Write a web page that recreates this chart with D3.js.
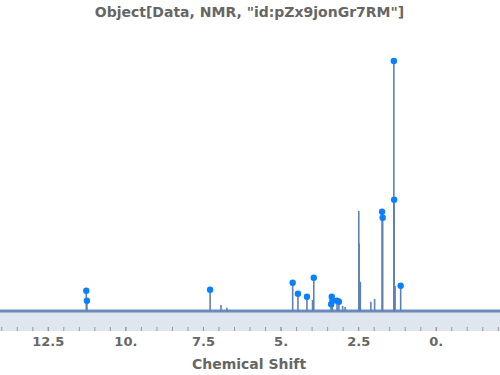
<!DOCTYPE html>
<html><head><meta charset="utf-8">
<script src="https://cdn.jsdelivr.net/npm/d3@7"></script>
<style>body{margin:0;background:#fff}svg{display:block}</style>
</head><body>
<script>
// spectrum sticks: chemical shift (ppm) and relative intensity
const peakShifts  = [11.26, 11.24, 7.27, 6.92, 6.73, 4.61, 4.44, 4.15, 3.97, 3.93, 3.37, 3.35, 3.33, 3.18, 3.12, 3.0, 2.92, 2.48, 2.47, 2.43, 2.09, 1.97, 1.73, 1.71, 1.35, 1.34, 1.31, 1.13];
const peakHeights = [8.1, 4.1, 8.5, 2.4, 1.3, 11.3, 6.9, 5.7, 4.4, 13.3, 2.7, 5.7, 4.1, 4.1, 3.7, 2.0, 1.6, 40.0, 27.0, 11.7, 3.7, 4.8, 39.7, 37.3, 100.0, 44.5, 10.0, 10.1];
// detected peaks (markers)
const markShifts  = [11.26, 11.24, 7.27, 4.61, 4.44, 4.15, 3.93, 3.37, 3.35, 3.33, 3.18, 3.12, 1.73, 1.71, 1.35, 1.34, 1.13];
const markHeights = [8.1, 4.1, 8.5, 11.3, 6.9, 5.7, 13.3, 2.7, 5.7, 4.1, 4.1, 3.7, 39.7, 37.3, 100.0, 44.5, 10.1];
const majorTicks  = [12.5, 10, 7.5, 5, 2.5, 0];
const majorLabels = ["12.5", "10.", "7.5", "5.", "2.5", "0."];
const minorTicks  = d3.range(-2, 14.01, 0.5);
const xDomain = [14.04, -2.07];
const title = 'Object[Data, NMR, "id:pZx9jonGr7RM"]';
const xLabel = "Chemical Shift";

const W = 500, H = 375;
const svg = d3.select("body").append("svg").attr("width", W).attr("height", H);
const x = d3.scaleLinear().domain(xDomain).range([0, W]);
const y = d3.scaleLinear().domain([0, 100]).range([311, 61]);
const bottom = 331;
const lineColor = "#5e81b5";

// filling to bottom
svg.append("path")
  .datum(xDomain)
  .attr("d", d3.area().x(d => x(d)).y0(bottom).y1(y(0)))
  .attr("fill", "#dfe6f0");

// baseline noise band
svg.append("line")
  .attr("x1", x(xDomain[0])).attr("x2", x(xDomain[1]))
  .attr("y1", y(0)).attr("y2", y(0))
  .attr("stroke", lineColor).attr("stroke-width", 3.4).attr("opacity", 0.6);
svg.append("line")
  .attr("x1", x(xDomain[0])).attr("x2", x(xDomain[1]))
  .attr("y1", y(0)).attr("y2", y(0))
  .attr("stroke", lineColor).attr("stroke-width", 1.4);

// sticks
svg.append("g").selectAll("line")
  .data(peakShifts.map((s, i) => ({s, h: peakHeights[i]})))
  .join("line")
  .attr("x1", d => x(d.s)).attr("x2", d => x(d.s))
  .attr("y1", y(0)).attr("y2", d => y(d.h))
  .attr("stroke", lineColor).attr("stroke-width", 1.6);

// markers
svg.append("g").selectAll("circle")
  .data(markShifts.map((s, i) => ({s, h: markHeights[i]})))
  .join("circle")
  .attr("cx", d => x(d.s)).attr("cy", d => y(d.h)).attr("r", 3.2)
  .attr("fill", "#0a80ff");

// axes
const font = "'DejaVu Sans', sans-serif";
const minorAxis = d3.axisBottom(x).tickValues(minorTicks).tickSizeInner(-4).tickSizeOuter(0).tickFormat("");
const gMin = svg.append("g").attr("transform", `translate(0,${bottom})`).call(minorAxis);
gMin.select(".domain").remove();
gMin.selectAll(".tick line").attr("stroke", "#999");

const majorAxis = d3.axisBottom(x).tickValues(majorTicks).tickSizeInner(-4).tickSizeOuter(0)
  .tickPadding(6).tickFormat((d, i) => majorLabels[i]);
const gMaj = svg.append("g").attr("transform", `translate(0,${bottom})`).call(majorAxis);
gMaj.select(".domain").remove();
gMaj.selectAll(".tick line").attr("stroke", "#999");
gMaj.selectAll("text").attr("fill", "#666").attr("font-family", font)
  .attr("font-weight", "bold").attr("font-size", 13);

svg.append("text").attr("x", 249).attr("y", 369).attr("text-anchor", "middle")
  .attr("font-family", font).attr("font-weight", "bold").attr("font-size", 14)
  .attr("fill", "#666").text(xLabel);

svg.append("text").attr("x", 249.5).attr("y", 17).attr("text-anchor", "middle")
  .attr("font-family", font).attr("font-weight", "bold").attr("font-size", 14)
  .attr("fill", "#666").text(title);
</script>
</body></html>
